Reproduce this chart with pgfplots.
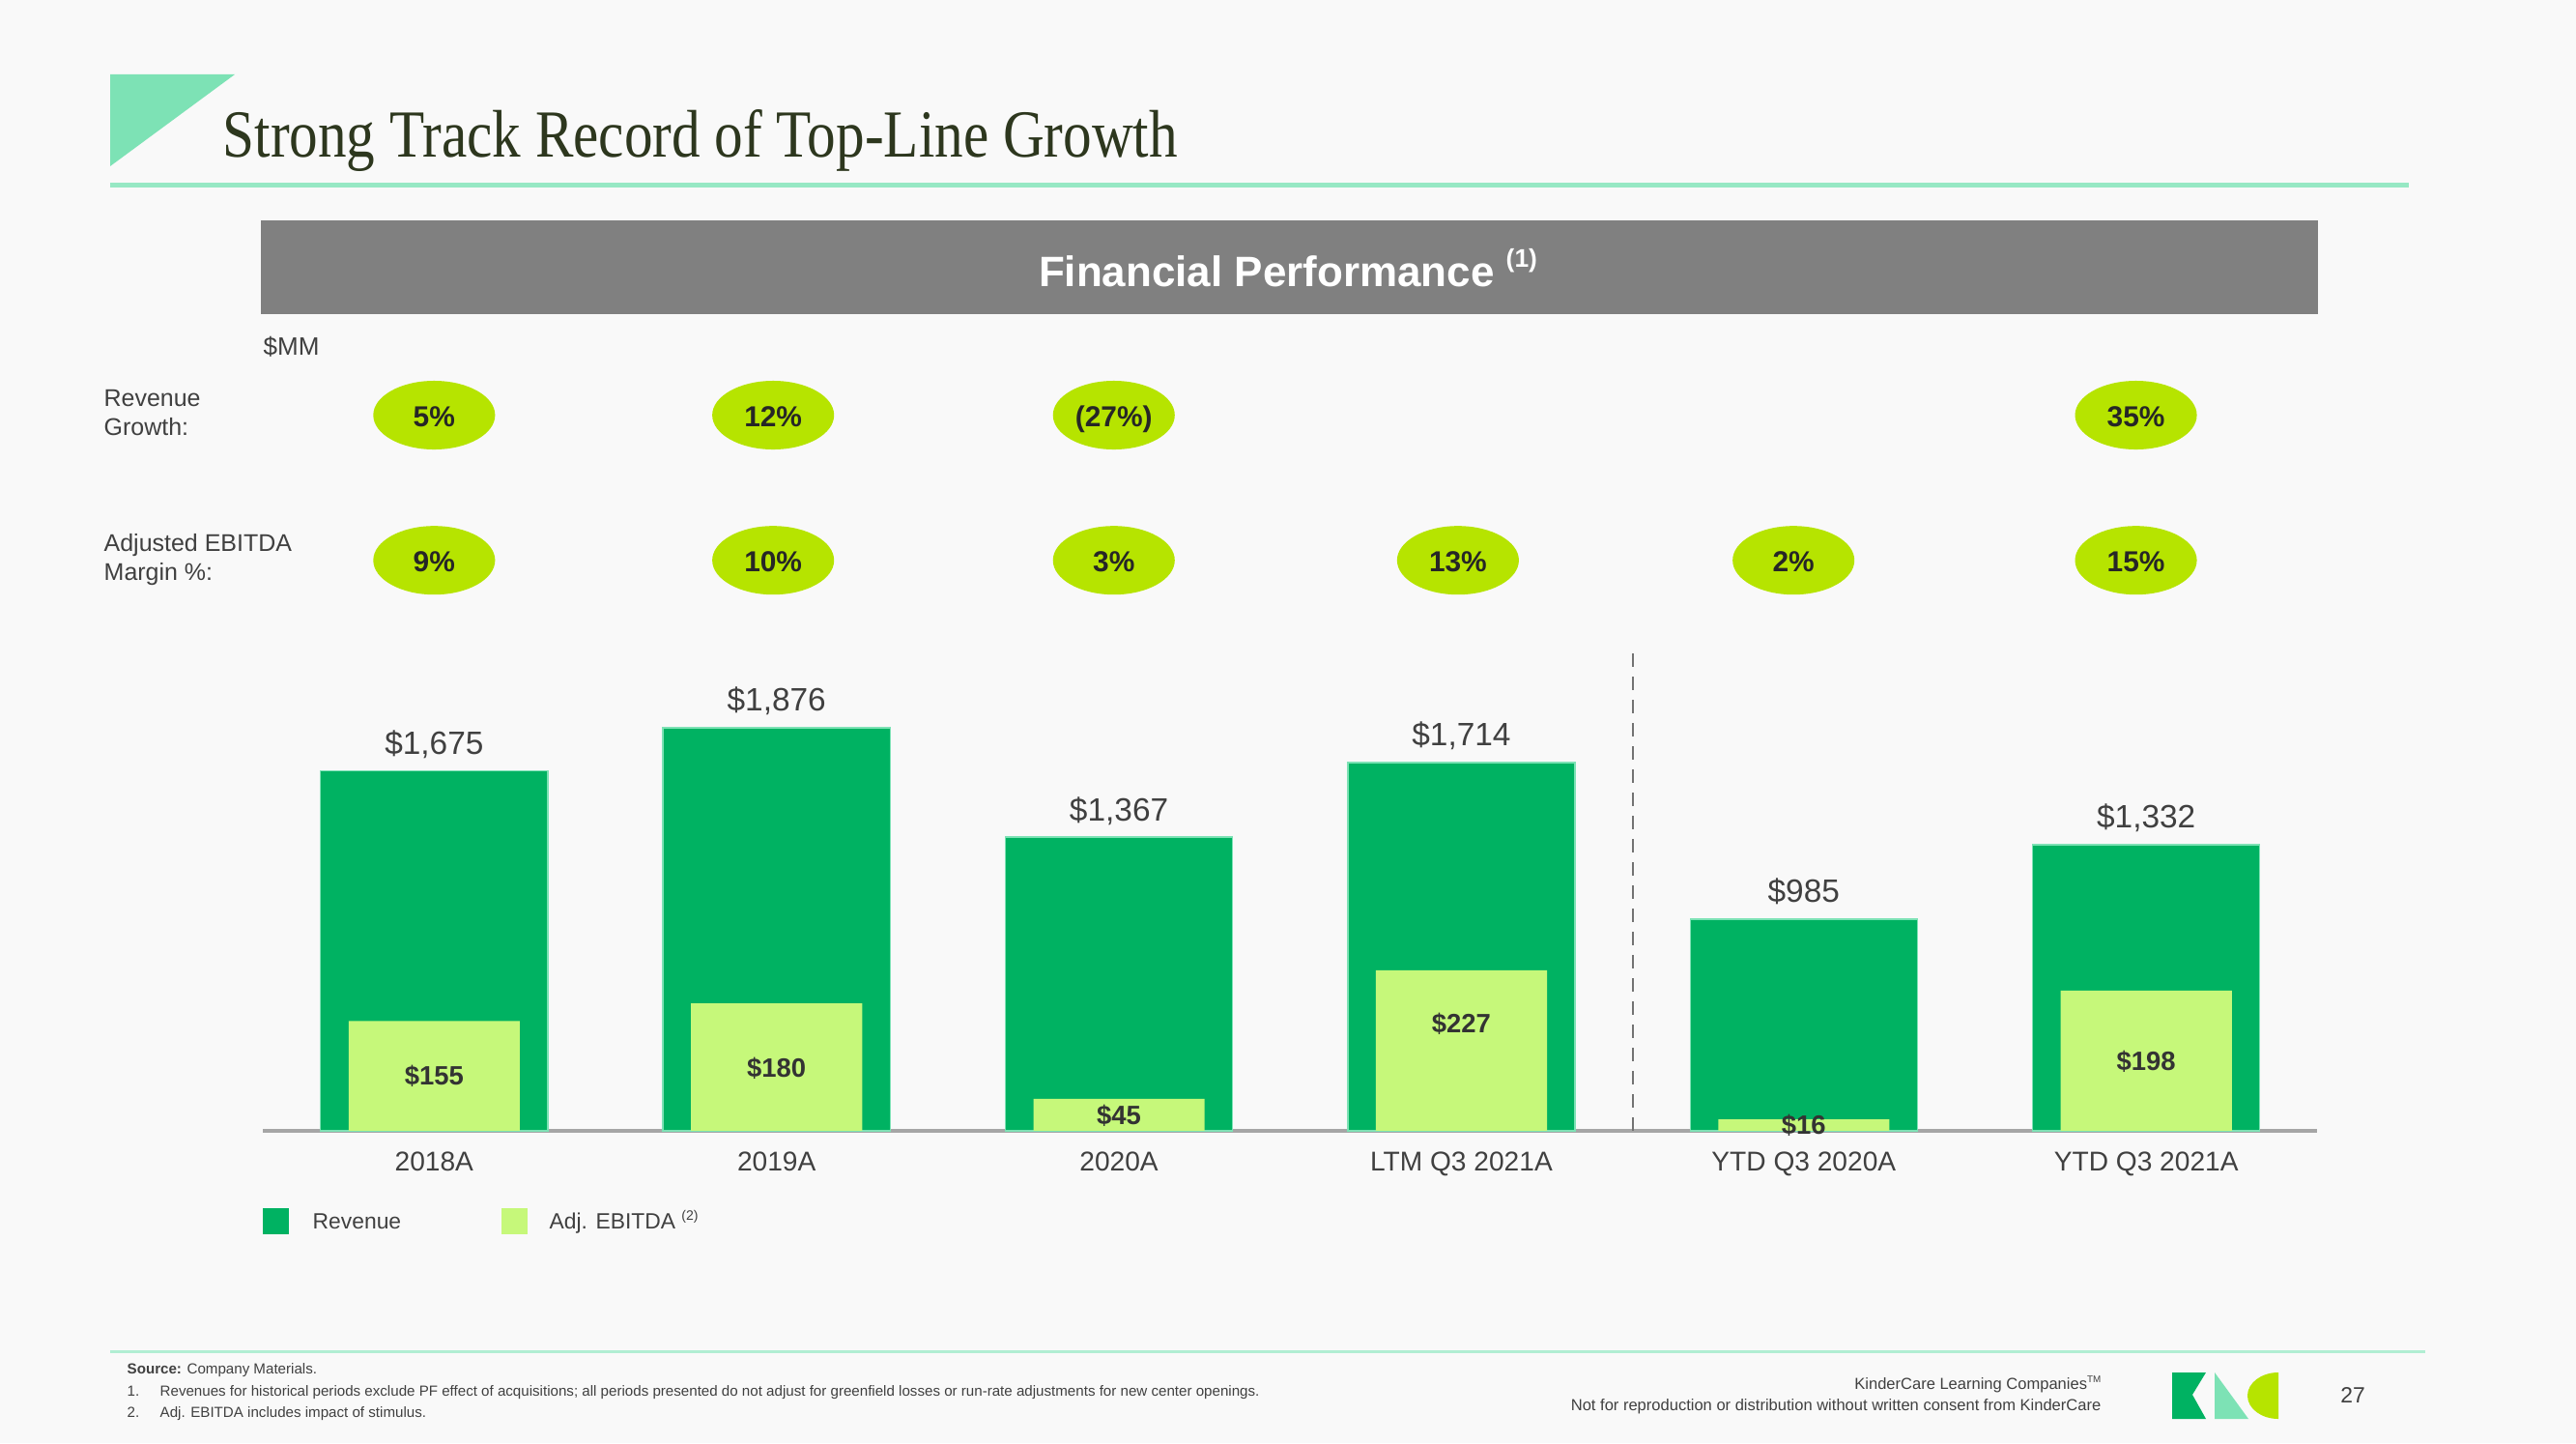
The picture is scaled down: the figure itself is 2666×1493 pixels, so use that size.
\documentclass[border=0pt]{standalone}
\usepackage{pgfplots}
\pgfplotsset{compat=1.18}
\usepackage{pgfplotstable}
\usepackage{fontspec}
\setmainfont{Liberation Sans}
\newfontfamily\titlefont{Liberation Serif}
\usetikzlibrary{shapes.geometric}

\definecolor{rev}{RGB}{0,178,98}
\definecolor{ebd}{RGB}{198,248,122}
\definecolor{pill}{RGB}{182,228,0}
\definecolor{mint}{RGB}{125,226,181}
\definecolor{hdr}{RGB}{128,128,128}
\definecolor{bg}{RGB}{249,249,249}
\definecolor{txt}{RGB}{64,64,64}
\definecolor{titlec}{RGB}{45,55,30}

% x position, revenue, adj. EBITDA, EBITDA label height
\pgfplotstableread{
x rev ebitda ly
0 1675 155 77
1 1876 180 88
2 1367 45 21
3 1714 227 151
4 985 16 7
5 1332 198 98
}\fin

\pgfplotsset{base/.style={
  at={(2.72cm,3.23cm)}, anchor=south west, scale only axis,
  width=21.25cm, height=4.441cm, xmin=-0.5, xmax=5.5, ymin=0,
  clip=false, /pgf/number format/assume math mode=true,
  /pgf/number format/1000 sep={,}}}
\tikzset{pillstyle/.style={ellipse, fill=pill, minimum width=1.26cm, minimum height=0.71cm, inner sep=0, anchor=center, text height=1.6ex, text depth=0.35ex, font=\bfseries\fontsize{8.5}{10}\selectfont, text=black!85}}

\begin{document}
\begin{tikzpicture}[x=0.01cm,y=0.01cm]
\fill[bg] (0,0) rectangle (2666,1493);
% title
\fill[mint] (114,1416) -- (243,1416) -- (114,1321) -- cycle;
\node[anchor=base west, inner sep=0, text=titlec] at (230,1330) {\scalebox{0.85}[1]{\fontsize{19.8}{22}\titlefont Strong Track Record of Top-Line Growth}};
\fill[mint!80] (114,1298.5) rectangle (2493,1303.5);
% header
\fill[hdr] (270,1168) rectangle (2399,1265);
\node[text=white, font=\bfseries\fontsize{12.5}{14}\selectfont] at (1333,1216) {Financial Performance \raisebox{0.45em}{\fontsize{7.5}{8}\selectfont (1)}};
% labels
\node[anchor=west, inner sep=0, text=txt, font=\fontsize{7.4}{9}\selectfont] at (272,1134) {\$MM};
\node[anchor=west, inner sep=0, align=left, text=txt, font=\fontsize{7.1}{8.3}\selectfont] at (107,1066) {Revenue\\Growth:};
\node[anchor=west, inner sep=0, align=left, text=txt, font=\fontsize{7.1}{8.3}\selectfont] at (107,914) {Adjusted EBITDA\\Margin \%:};

% revenue axis
\begin{axis}[base, ymax=2000,
  axis x line=bottom, axis y line=none,
  x axis line style={-, draw=black!35, line width=1pt},
  xtick={0,...,5}, major tick length=0,
  xticklabels={2018A,2019A,2020A,LTM Q3 2021A,YTD Q3 2020A,YTD Q3 2021A},
  xticklabel style={font=\fontsize{8}{9}\selectfont, text=txt, anchor=base, yshift=-0.42cm}]
\addplot[ybar, bar width=2.35cm, fill=rev, draw=mint, line width=0.4pt,
  nodes near coords={\$\pgfmathprintnumber{\pgfplotspointmeta}},
  every node near coord/.append style={anchor=base, yshift=0.17cm, font=\fontsize{9.5}{11}\selectfont, text=txt}]
  table[x=x, y=rev] {\fin};
\addplot[draw=none, mark=none, nodes near coords, point meta=explicit symbolic,
  every node near coord/.style={pillstyle}]
  coordinates {(0,3332) [5\%] (0.99,3332) [12\%] (1.985,3332) [{(27\%)}] (4.97,3332) [35\%]};
\addplot[draw=none, mark=none, nodes near coords, point meta=explicit symbolic,
  every node near coord/.style={pillstyle}]
  coordinates {(0,2656) [9\%] (0.99,2656) [10\%] (1.985,2656) [3\%] (2.99,2656) [13\%] (3.97,2656) [2\%] (4.97,2656) [15\%]};
\draw[black!55, dash pattern=on 0.14cm off 0.1cm, line width=0.6pt] (axis cs:3.5,0) -- (axis cs:3.5,2260);
\end{axis}

% EBITDA axis
\begin{axis}[base, ymax=607.4, hide axis]
\addplot[ybar, bar width=1.77cm, fill=ebd, draw=none] table[x=x, y=ebitda] {\fin};
\addplot[draw=none, mark=none,
  nodes near coords={\$\pgfmathprintnumber{\pgfplotspointmeta}}, point meta=\thisrow{ebitda},
  every node near coord/.style={anchor=center, font=\bfseries\fontsize{7.8}{9}\selectfont, text=black!80}]
  table[x=x, y=ly] {\fin};
\end{axis}

% legend
\fill[rev] (272,216) rectangle (299,243);
\node[anchor=west, inner sep=0, text=txt, font=\fontsize{6.5}{8}\selectfont] at (323,229) {Revenue};
\fill[ebd] (519,216) rectangle (546,243);
\node[anchor=west, inner sep=0, text=txt, font=\fontsize{6.5}{8}\selectfont] at (568,229) {Adj. EBITDA \raisebox{0.4em}{\fontsize{4}{5}\selectfont (2)}};

% footer
\fill[mint!60] (114,93.5) rectangle (2510,96.5);
\begin{scope}[every node/.style={anchor=base west, inner sep=0, text=txt, font=\fontsize{4.3}{5}\selectfont}]
\node at (131,72) {\textbf{Source:} Company Materials.};
\node at (131,49) {1.};
\node at (165,49) {Revenues for historical periods exclude PF effect of acquisitions; all periods presented do not adjust for greenfield losses or run-rate adjustments for new center openings.};
\node at (131,27) {2.};
\node at (165,27) {Adj. EBITDA includes impact of stimulus.};
\end{scope}
\node[anchor=base east, inner sep=0, text=txt, font=\fontsize{4.7}{5}\selectfont] at (2175,56) {KinderCare Learning Companies\raisebox{0.4em}{\fontsize{2.8}{3}\selectfont TM}};
\node[anchor=base east, inner sep=0, text=txt, font=\fontsize{4.7}{5}\selectfont] at (2175,34) {Not for reproduction or distribution without written consent from KinderCare};
\node[text=txt, font=\fontsize{6.5}{8}\selectfont] at (2435,49) {27};
% logo
\fill[rev] (2248,73) -- (2283,73) -- (2269,50) -- (2283,25) -- (2248,25) -- cycle;
\fill[mint] (2292,73) -- (2292,25) -- (2327,25) -- cycle;
\fill[pill] (2358,73) arc[start angle=90, end angle=270, x radius=0.32cm, y radius=0.24cm] -- cycle;
\end{tikzpicture}
\end{document}
